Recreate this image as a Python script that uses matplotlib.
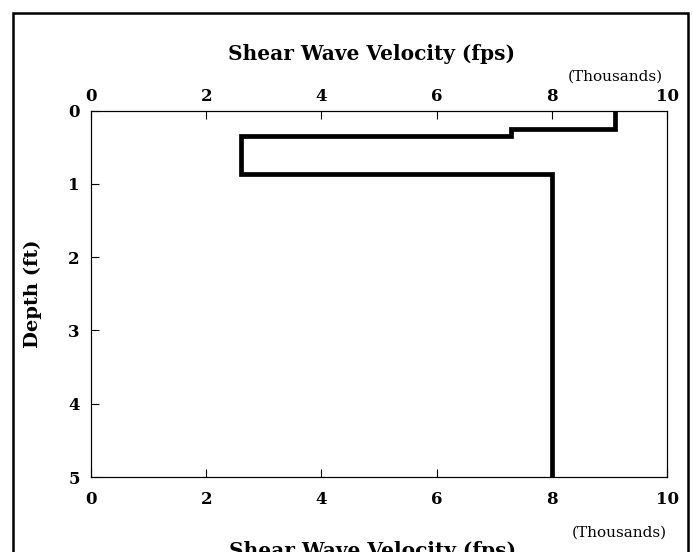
import matplotlib.pyplot as plt
from matplotlib.patches import Rectangle

# Shear wave velocity profile (thousands of fps) vs depth (ft)
velocity = [9.1, 7.3, 2.6, 8.0]
layer_top = [0.0, 0.25, 0.35, 0.86]
layer_bottom = [0.25, 0.35, 0.86, 5.0]
xticks = [0, 2, 4, 6, 8, 10]
yticks = [0, 1, 2, 3, 4, 5]

# build the stepped profile
xs, ys = [], []
for v, t, b in zip(velocity, layer_top, layer_bottom):
    xs += [v, v]
    ys += [t, b]

plt.rcParams['font.family'] = 'DejaVu Serif'

fig = plt.figure(figsize=(6.93, 5.52), dpi=100)
ax = fig.add_axes([91/693, 75/552, 576/693, 366.3/552])

ax.plot(xs, ys, color='black', lw=3.4, solid_joinstyle='miter')
ax.set_xlim(0, 10)
ax.set_ylim(5, 0)

ax.set_xticks(xticks)
ax.set_yticks(yticks)
ax.tick_params(axis='both', direction='in', length=6, width=0.8, labelsize=12)
ax.tick_params(axis='x', pad=10)
ax.tick_params(axis='y', pad=8)
for lab in ax.get_xticklabels() + ax.get_yticklabels():
    lab.set_fontweight('bold')
for s in ax.spines.values():
    s.set_linewidth(0.8)

ax2 = ax.twiny()
ax2.set_xlim(0, 10)
ax2.set_xticks(xticks)
ax2.tick_params(axis='x', direction='in', length=6, width=0.8, labelsize=12, pad=4)
for lab in ax2.get_xticklabels():
    lab.set_fontweight('bold')
for s in ax2.spines.values():
    s.set_linewidth(0.8)

# titles and unit notes
fig.text(372/693, 1 - 54/552, 'Shear Wave Velocity (fps)', ha='center', va='center',
         fontsize=14.5, fontweight='bold')
fig.text(373/693, 1 - 551/552, 'Shear Wave Velocity (fps)', ha='center', va='center',
         fontsize=14.5, fontweight='bold')
fig.text(33/693, 1 - 294/552, 'Depth (ft)', ha='center', va='center', rotation=90,
         fontsize=14, fontweight='bold')
fig.text(663/693, 1 - 77/552, '(Thousands)', ha='right', va='center', fontsize=11)
fig.text(667/693, 1 - 533/552, '(Thousands)', ha='right', va='center', fontsize=11)

# outer frame
fig.patches.append(Rectangle((13/693, -0.1), 675/693, 1.1 - 13/552, transform=fig.transFigure,
                             fill=False, edgecolor='black', lw=1.8))

fig.savefig('out.png', dpi=100)
